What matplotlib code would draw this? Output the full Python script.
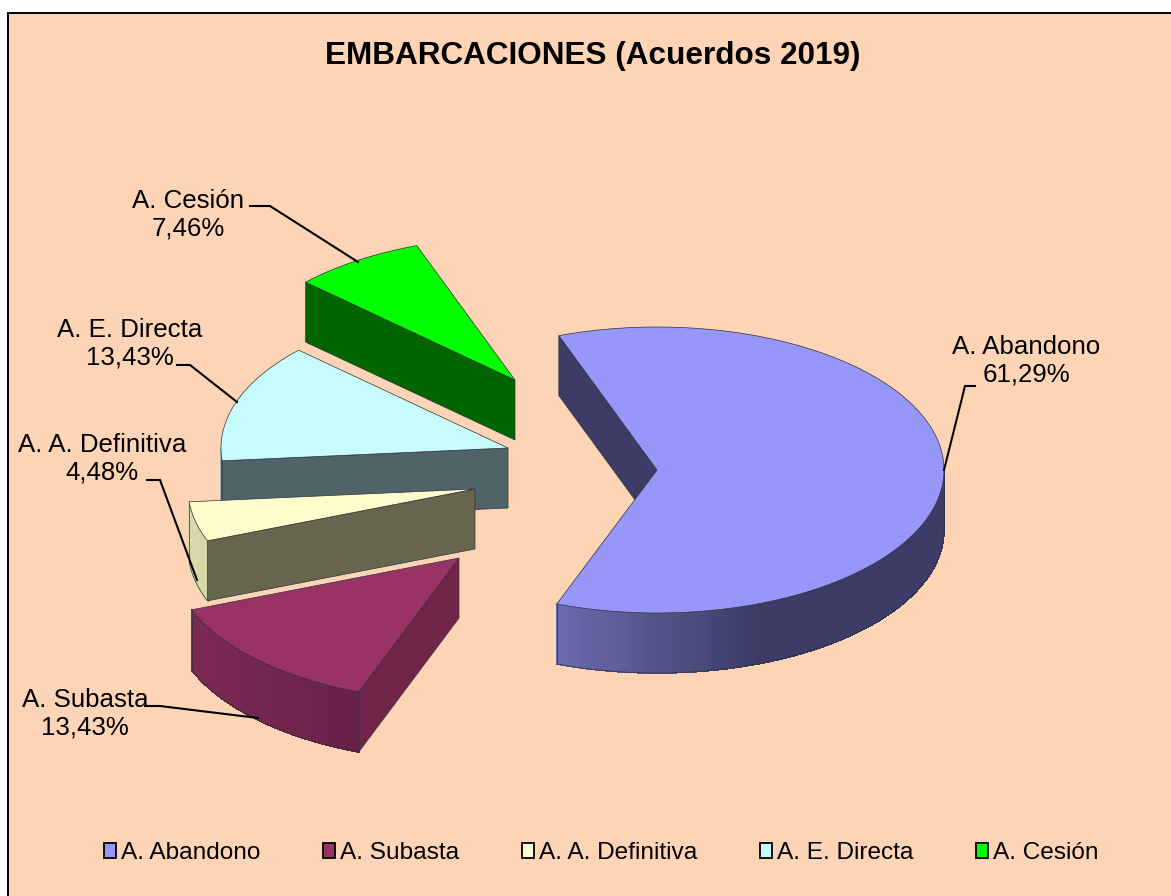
#! /usr/bin/env python
# Exploded 3D pie drawn by hand, matplotlib has no 3D pie
import numpy as np
import matplotlib
matplotlib.use('Agg')
import matplotlib.pyplot as plt
from matplotlib.patches import Patch, Polygon, Rectangle
from matplotlib.colors import to_rgb

plt.rcParams['font.family'] = ['Liberation Sans', 'DejaVu Sans']

title = "EMBARCACIONES (Acuerdos 2019)"
categories = ["A. Abandono", "A. Subasta", "A. A. Definitiva", "A. E. Directa", "A. Cesión"]
values = [61.29, 13.43, 4.48, 13.43, 7.46]

top_colors = ['#9797FA', '#993366', '#FCFCCC', '#C8FCFC', '#00FF00']
cut_colors = ['#3C3C66', '#722448', '#66664F', '#506368', '#006600']
arc_light = ['#6A6AAE', '#7C2A54', '#D8D8AA', '#A0B4B4', '#006600']
arc_dark = ['#3C3C66', '#641F46', '#C8C89C', '#A0B4B4', '#006600']

# slice centres in pixels, one for each category
centre_x = [657, 459, 475, 508, 515]
centre_y = [470, 558, 489, 448, 380]

# label block centre, then the leader line from label to slice
label_pos = [(1026, 361), (85, 714), (102, 459), (130, 344), (188, 215)]
leaders = [[(975, 386), (965, 386), (944, 470)],
           [(145, 706), (160, 706), (258, 718)],
           [(147, 480), (160, 480), (197, 580)],
           [(177, 365), (190, 365), (237, 402)],
           [(250, 206), (270, 206), (358, 262)]]

rx, ry, depth = 287, 143, 60
start_angle = 110
edge = '#30303A'


def rim(cx, cy, a):
    return cx + rx*np.cos(a), cy - ry*np.sin(a)


def mix(c1, c2, t):
    c1, c2 = np.array(to_rgb(c1)), np.array(to_rgb(c2))
    return tuple(c1 + (c2-c1)*t)


def draw_slice(ax, cx, cy, a0, a1, i, z):
    # a0 > a1, slices run clockwise. Only the front facing walls are drawn
    angles = np.linspace(a0, a1, 240)
    front = angles[np.sin(angles) < 0]
    if len(front) > 1:
        xs, ys = rim(cx, cy, front)
        xmin = xs.min()
        for k in range(len(front)-1):
            t = min(1, (min(xs[k], xs[k+1]) - xmin)/200.0)
            col = mix(arc_light[i], arc_dark[i], t)
            ax.add_patch(Polygon([(xs[k], ys[k]), (xs[k+1], ys[k+1]),
                                  (xs[k+1], ys[k+1]+depth), (xs[k], ys[k]+depth)],
                                 fc=col, ec=col, lw=0.5, antialiased=False, zorder=z))
        ax.plot(xs, ys+depth, color=edge, lw=0.5, zorder=z+0.1)
        ax.plot([xs[0], xs[0]], [ys[0], ys[0]+depth], color=edge, lw=0.5, zorder=z+0.1)
        ax.plot([xs[-1], xs[-1]], [ys[-1], ys[-1]+depth], color=edge, lw=0.5, zorder=z+0.1)
    # cut faces, the start one faces us if cos<0, the end one if cos>0
    for a, show in ((a0, np.cos(a0) < 0), (a1, np.cos(a1) > 0)):
        if show:
            x, y = rim(cx, cy, a)
            ax.add_patch(Polygon([(cx, cy), (x, y), (x, y+depth), (cx, cy+depth)],
                                 fc=cut_colors[i], ec=edge, lw=0.5, zorder=z+0.2))
    xs, ys = rim(cx, cy, angles)
    ax.add_patch(Polygon(np.column_stack([np.r_[cx, xs], np.r_[cy, ys]]),
                         fc=top_colors[i], ec=edge, lw=0.5, zorder=z+0.3))


fig = plt.figure(figsize=(11.71, 8.96), dpi=100, facecolor='white')
ax = fig.add_axes([0, 0, 1, 1])
ax.set_xlim(0, 1171)
ax.set_ylim(896, 0)
ax.axis('off')

ax.add_patch(Rectangle((8, 13), 1300, 1000, fc='#FDD4B5', ec='black', lw=1.4, zorder=0))

ax.text(593, 56, title, fontsize=22.7, fontweight='bold', ha='center', va='center', zorder=20)

# back slices first so the front ones cover them
total = sum(values)
a_end = np.radians(start_angle) - np.cumsum(values)/total*2*np.pi
a_start = np.r_[np.radians(start_angle), a_end[:-1]]
paint_order = [4, 3, 2, 1, 0]
for z, i in enumerate(paint_order):
    draw_slice(ax, centre_x[i], centre_y[i], a_start[i], a_end[i], i, 2+z)

for i, name in enumerate(categories):
    pct = ("%.2f%%" % values[i]).replace('.', ',')
    ax.text(label_pos[i][0], label_pos[i][1], name+"\n"+pct, fontsize=18.6, ha='center',
            va='center', linespacing=1.17, zorder=20)
    xs, ys = zip(*leaders[i])
    ax.plot(xs, ys, color='black', lw=1.5, zorder=15, solid_joinstyle='miter')

handles = [Patch(fc=c, ec='black', lw=1.3) for c in top_colors]
leg = ax.legend(handles, categories, ncol=5, frameon=False, fontsize=17.6,
                loc='center left', bbox_to_anchor=(104/1171., 1-853/896.),
                handlelength=0.5, handleheight=0.55, handletextpad=0.2,
                columnspacing=2.56, borderpad=0, borderaxespad=0)
leg.set_zorder(20)

fig.savefig('out.png', dpi=100)
